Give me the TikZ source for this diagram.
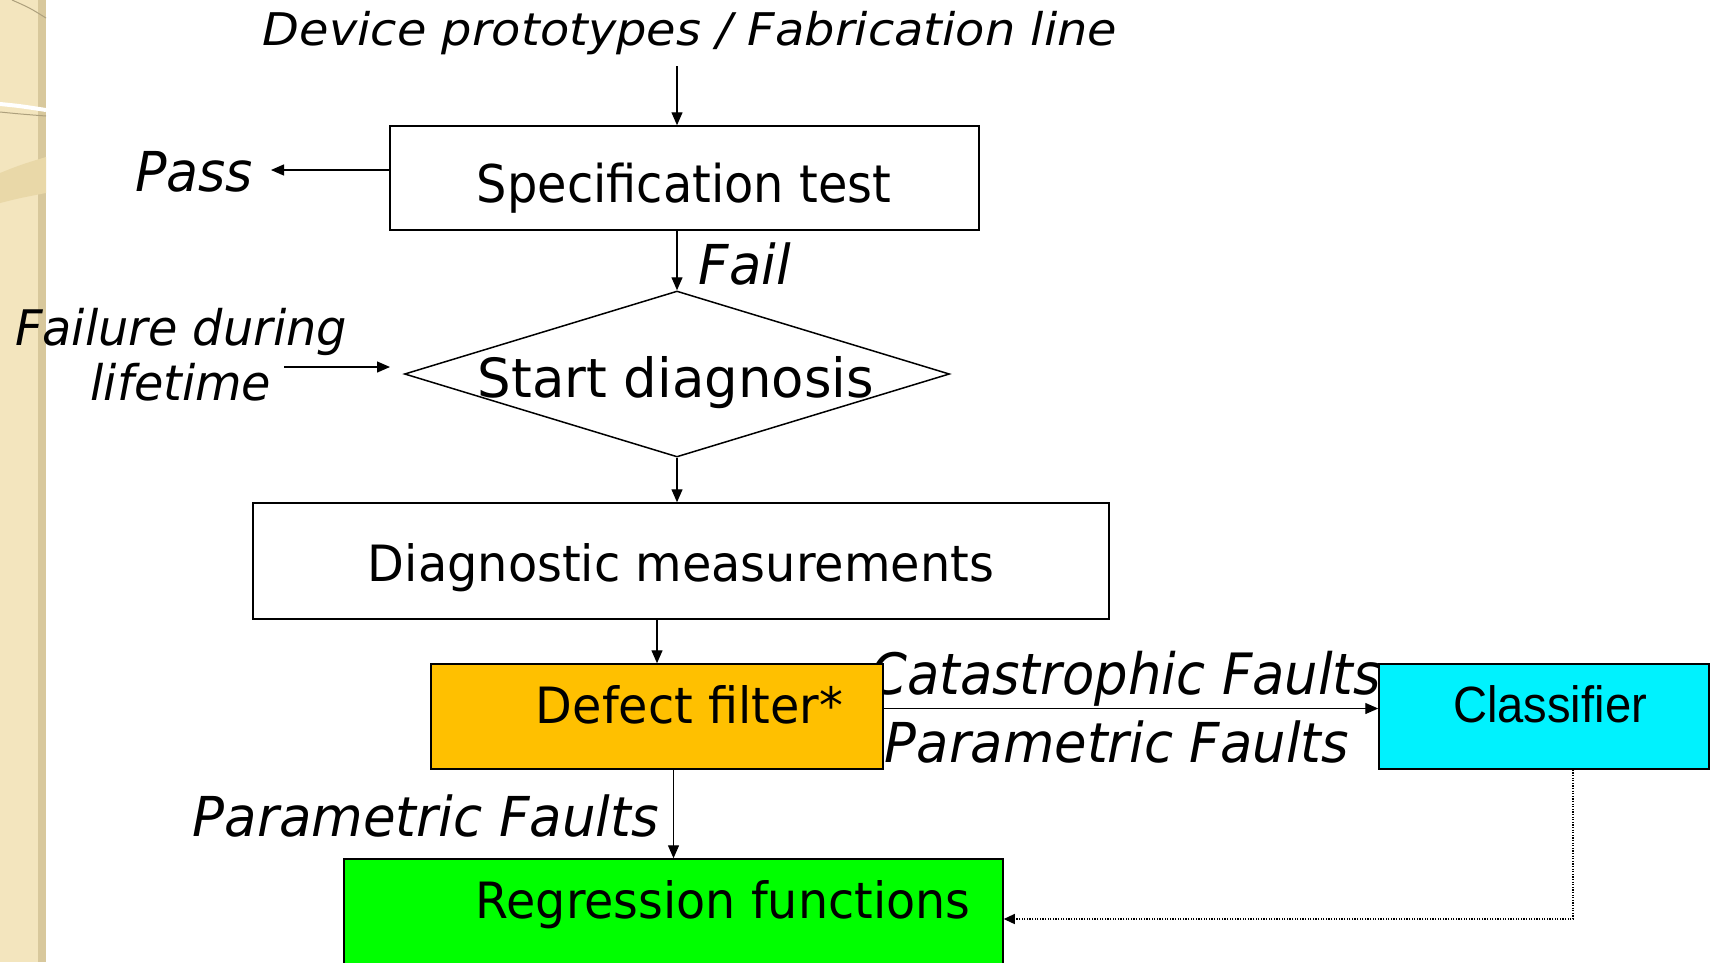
\documentclass[tikz,border=0pt]{standalone}
\usepackage{graphicx}
\usepackage{fontspec}
\setmainfont{DejaVu Sans}
\newfontfamily\arialfont{Liberation Sans}
\usetikzlibrary{arrows.meta,shapes.geometric}
\definecolor{dforange}{HTML}{FFC000}
\definecolor{clcyan}{HTML}{00F2FE}
\definecolor{rfgreen}{HTML}{00FF00}
\definecolor{bgbeige}{HTML}{F3E5BE}
\definecolor{bgdark}{HTML}{D8C89C}
\definecolor{bgband}{HTML}{E9D8A8}
\newcommand\hsc[2]{\scalebox{#1}[1]{#2}}
\tikzset{
  box/.style={draw, line width=1.5pt, inner sep=0pt},
  txt/.style={inner sep=0pt, anchor=base, font=\fontsize{#1}{#1}\selectfont},
  lbl/.style={inner sep=0pt, anchor=base, font=\fontsize{#1}{#1}\selectfont\itshape},
  arr/.style={-{Triangle[length=13pt,width=11pt]}, line width=1.3pt},
  dotarr/.style={-{Triangle[length=11pt,width=10pt]}, line width=1.3pt, dash pattern=on 1.3pt off 1.3pt},
}
\begin{document}
\begin{tikzpicture}[x=1pt,y=-1pt]
    \clip (0,0) rectangle (1712,962);
    \fill[white] (0,0) rectangle (1712,962);
    % left border
    \fill[bgbeige] (0,0) rectangle (38,962);
    \fill[bgdark] (38,0) rectangle (46,962);
    \fill[bgband] (0,173) .. controls (20,165) .. (46,157) -- (46,193) .. controls (20,198) .. (0,203) -- cycle;
    \draw[white, line width=4pt] (0,104) .. controls (20,106) .. (46,110);
    \draw[bgdark!80!black, line width=1pt] (0,112) .. controls (20,114) .. (46,116);
    \draw[bgdark!80!black, line width=1pt] (12,0) .. controls (30,8) .. (46,18);

    \node[lbl=45] (src) at (690,45) {\hsc{1.064}{Device prototypes / Fabrication line}};
    \node[lbl=55] (pass) at (194,191) {\hsc{0.95}{Pass}};
    \node[lbl=55] (fail) at (745,284) {\hsc{0.96}{Fail}};
    \node[lbl=49] (flt1) at (181,345) {\hsc{0.975}{Failure during}};
    \node[lbl=49] (flt2) at (181,400.7) {\hsc{0.975}{lifetime}};
    \node[lbl=57] (cat) at (1125.6,694) {\hsc{0.926}{Catastrophic Faults}};
    \node[lbl=55] (parr) at (1117,762) {\hsc{0.96}{Parametric Faults}};
    \node[lbl=55] (parl) at (426,836) {\hsc{0.964}{Parametric Faults}};

    \node[box, minimum width=589pt, minimum height=104pt] (spec) at (684.5,178) {};
    \node[txt=52] (spectxt) at (684,202) {\hsc{0.92}{Specification test}};
    \node[box, diamond, minimum width=545pt, minimum height=166pt] (dia) at (677,374) {};
    \node[txt=54] (diatxt) at (676,397) {\hsc{0.98}{Start diagnosis}};
    \node[box, minimum width=856pt, minimum height=116pt] (diag) at (681,561) {};
    \node[txt=50] (diagtxt) at (681,581) {\hsc{0.956}{Diagnostic measurements}};
    \node[box, fill=dforange, minimum width=452pt, minimum height=105pt] (df) at (657,716.5) {};
    \node[txt=50] (dftxt) at (689.5,723) {\hsc{0.954}{Defect filter*}};
    \node[box, fill=clcyan, minimum width=330pt, minimum height=105pt] (cls) at (1544,716.5) {};
    \node[txt=51] (clstxt) at (1550,722) {\arialfont\hsc{0.925}{Classifier}};
    \node[box, fill=rfgreen, minimum width=659pt, minimum height=120pt] (reg) at (673.5,919) {};
    \node[txt=50] (regtxt) at (723,918) {\hsc{0.952}{Regression functions}};

    \coordinate (srcout) at (677,66);
    \draw[arr] (srcout) -- (srcout |- spec.north);
    \coordinate (passin) at (271,170);
    \draw[arr] (passin -| spec.west) -- (passin);
    \draw[arr] (dia.north |- spec.south) -- (dia.north);
    \coordinate (fltout) at (284,367);
    \coordinate (fltin) at (390,367);
    \draw[arr] (fltout) -- (fltin);
    \draw[arr] (dia.south) -- (dia.south |- diag.north);
    \draw[arr] (df.north |- diag.south) -- (df.north);
    \draw[arr] ([yshift=8pt]df.east) -- ([yshift=8pt]df.east -| cls.west);
    \draw[arr] (reg.north |- df.south) -- (reg.north);
    \draw[dotarr] ([xshift=29pt]cls.south) |- (reg.east);
\end{tikzpicture}
\end{document}
